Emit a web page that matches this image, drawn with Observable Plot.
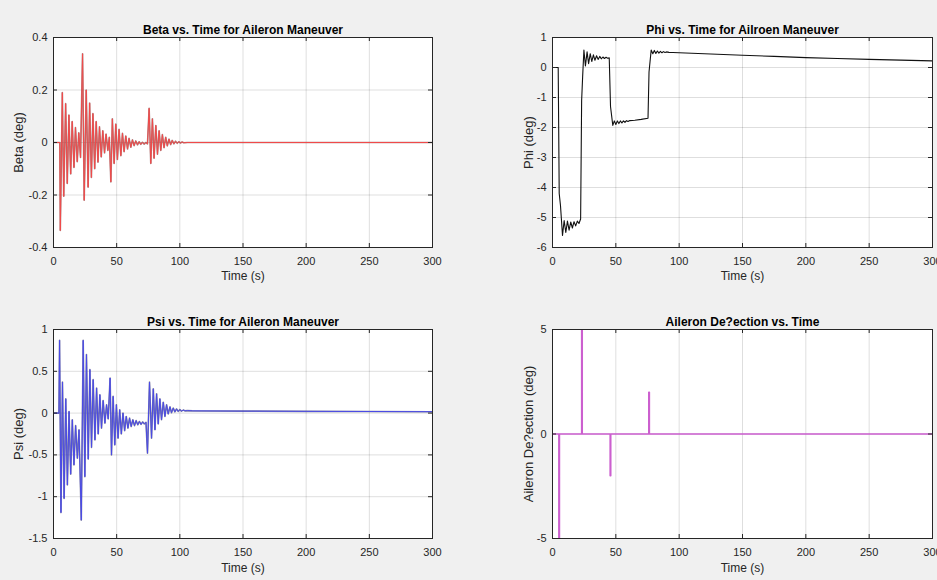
<!DOCTYPE html>
<html><head><meta charset="utf-8">
<script src="https://cdn.jsdelivr.net/npm/d3@7"></script>
<script src="https://cdn.jsdelivr.net/npm/@observablehq/plot@0.6"></script>
<style>
html,body{margin:0;padding:0;background:#f0f0f0;}
#fig{position:relative;width:937px;height:580px;overflow:hidden;background:#f0f0f0;font-family:"Liberation Sans",Arial,sans-serif;}
.panel{position:absolute;}
</style></head><body><div id="fig"></div>
<script>
// ---- Data (time in s, value in deg) ----
const timeTicks = [0, 50, 100, 150, 200, 250, 300];
const betaTicks = [-0.4, -0.2, 0, 0.2, 0.4];
const phiTicks = [-6, -5, -4, -3, -2, -1, 0, 1];
const psiTicks = [-1.5, -1, -0.5, 0, 0.5, 1];
const aileronTicks = [-5, 0, 5];

const betaSeries = [
  [0,0],[5.0,0],[5.4,-0.335],[7.0,0.19],[8.1,-0.205],[9.6,0.148],[10.9,-0.156],[12.2,0.105],
  [13.6,-0.12],[14.8,0.08],[16.2,-0.095],[17.4,0.057],[18.8,-0.073],[20.0,0.037],[21.4,-0.057],
  [23.0,0.338],[24.3,-0.22],[25.9,0.2],[27.4,-0.17],[28.6,0.15],[30.0,-0.133],[31.2,0.11],
  [32.6,-0.10],[33.8,0.08],[35.2,-0.075],[36.4,0.06],[37.8,-0.055],[39.0,0.045],[40.4,-0.04],
  [41.6,0.032],[43.0,-0.03],[44.2,0.02],[45.4,-0.15],[46.6,0.09],[48.0,-0.08],[49.3,0.07],
  [50.6,-0.065],[51.9,0.05],[53.3,-0.05],[54.6,0.035],[55.9,-0.035],[57.2,0.025],[58.6,-0.025],
  [59.8,0.016],[61.2,-0.018],[62.5,0.01],[63.8,-0.012],[65.1,0.006],[66.5,-0.009],[67.8,0.003],
  [69.1,-0.007],[70.4,0.001],[71.8,-0.006],[73.0,0],[74.4,-0.005],[75.7,0.13],[77.0,-0.08],
  [78.3,0.09],[79.6,-0.06],[81.0,0.065],[82.3,-0.045],[83.6,0.045],[84.9,-0.03],[86.2,0.03],
  [87.5,-0.02],[88.8,0.02],[90.1,-0.013],[91.4,0.013],[92.7,-0.008],[94.0,0.008],[95.3,-0.005],
  [96.6,0.005],[97.9,-0.003],[99.2,0.003],[100.5,-0.002],[101.8,0.002],[103.1,-0.001],[106,0],[300,0]
];

const phiSeries = [
  [0,0],[4.5,0],[5.3,-4.2],[6.3,-4.6],[7.9,-5.6],[9.2,-5.1],[10.5,-5.5],[11.8,-5.12],[13.1,-5.42],
  [14.4,-5.15],[15.7,-5.35],[17.0,-5.14],[18.3,-5.28],[19.6,-5.12],[20.9,-5.2],[22.2,-5.05],
  [23.0,-1.1],[23.8,-0.3],[24.8,0.58],[26.0,0.05],[27.3,0.52],[28.5,0.13],[29.8,0.46],[31.0,0.2],
  [32.3,0.42],[33.5,0.24],[34.8,0.39],[36.0,0.27],[37.3,0.37],[38.5,0.29],[39.8,0.35],[41.0,0.3],
  [42.3,0.34],[43.5,0.31],[44.8,0.32],[45.8,-1.3],[47.6,-1.93],[48.8,-1.78],[50.0,-1.9],[51.2,-1.78],
  [52.4,-1.87],[53.6,-1.78],[54.8,-1.85],[56.0,-1.78],[57.2,-1.83],[58.4,-1.77],[59.6,-1.8],
  [61.0,-1.77],[65.0,-1.76],[70.0,-1.73],[75.4,-1.69],[76.2,-0.15],[77.9,0.58],[79.2,0.46],
  [80.4,0.57],[81.6,0.47],[82.8,0.55],[84.0,0.48],[85.2,0.54],[86.4,0.49],[87.6,0.53],[88.8,0.5],
  [90.0,0.52],[92.0,0.505],[95.0,0.5],[100,0.49],[125,0.45],[150,0.41],[175,0.37],[200,0.33],
  [225,0.3],[250,0.27],[275,0.245],[300,0.22]
];

const psiSeries = [
  [0,0],[4.3,0],[4.8,0.87],[5.9,-1.19],[7.1,0.37],[8.4,-1.02],[9.7,0.17],[11.0,-0.86],[12.3,0.02],
  [13.6,-0.73],[14.9,-0.08],[16.2,-0.62],[17.5,-0.15],[18.9,-0.54],[20.2,-0.2],[22.0,-1.28],
  [23.5,0.87],[24.8,-0.76],[26.1,0.70],[27.5,-0.55],[28.8,0.52],[30.1,-0.41],[31.4,0.40],
  [32.8,-0.32],[34.1,0.30],[35.4,-0.25],[36.7,0.22],[38.0,-0.18],[39.3,0.15],[40.7,-0.12],
  [42.0,0.10],[43.3,-0.07],[44.8,0.42],[45.9,-0.5],[47.2,0.2],[48.5,-0.38],[49.8,0.1],[51.1,-0.3],
  [52.4,0.04],[53.7,-0.25],[55.0,0.0],[56.3,-0.21],[57.6,-0.04],[58.9,-0.18],[60.2,-0.06],
  [61.5,-0.16],[62.8,-0.08],[64.1,-0.15],[65.4,-0.09],[66.7,-0.14],[68.0,-0.1],[69.3,-0.135],
  [70.6,-0.105],[71.9,-0.13],[73.2,-0.11],[74.4,-0.48],[76.0,0.37],[77.6,-0.3],[79.0,0.29],
  [80.3,-0.2],[81.6,0.23],[82.9,-0.13],[84.2,0.17],[85.5,-0.08],[86.9,0.13],[88.2,-0.04],
  [89.5,0.10],[90.8,-0.01],[92.2,0.075],[93.4,0.005],[94.8,0.06],[96.1,0.015],[97.4,0.05],
  [98.7,0.02],[100.0,0.042],[101.3,0.024],[102.7,0.036],[104.0,0.027],[106,0.03],[110,0.027],
  [150,0.024],[200,0.021],[250,0.019],[300,0.017]
];

const aileronSeries = [
  [0,0],[5,0],[5,-5],[5.5,-5],[5.5,0],[23,0],[23,5],[23.5,5],[23.5,0],
  [45.5,0],[45.5,-2],[46,-2],[46,0],[76,0],[76,2],[76.5,2],[76.5,0],[300,0]
];

const FONT = '"Liberation Sans", Arial, Helvetica, sans-serif';

function panel(o) {
  const rows = o.series.map(([t, v]) => ({t, v}));
  const fw = o.width - o.mL - o.mR, fh = o.height - o.mT - o.mB;
  const lineMarks = o.shadow
    ? [Plot.line(rows, {x: "t", y: "v", stroke: o.shadow, strokeWidth: o.strokeWidth + 0.6, strokeOpacity: 0.5, clip: true}),
       Plot.line(rows, {x: "t", y: "v", stroke: o.color, strokeWidth: o.strokeWidth, clip: true})]
    : [Plot.line(rows, {x: "t", y: "v", stroke: o.color, strokeWidth: o.strokeWidth, clip: true})];
  const chart = Plot.plot({
    width: o.width, height: o.height,
    marginLeft: o.mL, marginRight: o.mR, marginTop: o.mT, marginBottom: o.mB,
    style: {background: "transparent", fontFamily: FONT, fontSize: "11px", color: "#262626", overflow: "visible"},
    x: {domain: [0, 300]},
    y: {domain: o.yDomain},
    marks: [
      Plot.frame({fill: "white", stroke: null}),
      Plot.ruleX(timeTicks, {stroke: "#000", strokeOpacity: 0.13}),
      Plot.ruleY(o.yTicks, {stroke: "#000", strokeOpacity: 0.13}),
      ...lineMarks,
      Plot.tickX(timeTicks, {x: d => d, insetTop: fh - 4, stroke: "#262626"}),
      Plot.tickX(timeTicks, {x: d => d, insetBottom: fh - 4, stroke: "#262626"}),
      Plot.tickY(o.yTicks, {y: d => d, insetRight: fw - 4, stroke: "#262626"}),
      Plot.tickY(o.yTicks, {y: d => d, insetLeft: fw - 4, stroke: "#262626"}),
      Plot.frame({stroke: "#262626"}),
      Plot.axisX(timeTicks, {tickSize: 0, tickPadding: 10, label: null, tickFormat: d => String(d), fontSize: 11, fill: "#262626"}),
      Plot.axisY(o.yTicks, {tickSize: 0, tickPadding: 6, label: null, tickFormat: d => String(d), fontSize: 11, fill: "#262626"}),
      Plot.text([o.title], {text: d => d, frameAnchor: "top", dy: o.titleDy, textAnchor: "middle", fontWeight: "bold", fontSize: 12, fill: "#000"}),
      Plot.text(["Time (s)"], {text: d => d, frameAnchor: "bottom", dy: o.xlabelDy, textAnchor: "middle", fontSize: 12, fill: "#262626"}),
      Plot.text([o.ylabel], {text: d => d, frameAnchor: "left", dx: o.ylabelDx, textAnchor: "middle", rotate: -90, fontSize: 13, fill: "#262626"})
    ]
  });
  const div = document.createElement("div");
  div.className = "panel";
  div.style.left = o.left + "px";
  div.style.top = o.top + "px";
  div.appendChild(chart);
  document.getElementById("fig").appendChild(div);
}

panel({series: betaSeries, title: "Beta vs. Time for Aileron Maneuver", ylabel: "Beta (deg)",
  yDomain: [-0.4, 0.4], yTicks: betaTicks, color: "#f04a4a", shadow: "#5a1010", strokeWidth: 1,
  left: 0, top: 0, width: 468, height: 290, mL: 53, mR: 36, mT: 37, mB: 43,
  ylabelDx: -35, titleDy: -12, xlabelDy: 32});

panel({series: phiSeries, title: "Phi vs. Time for Ailroen Maneuver", ylabel: "Phi (deg)",
  yDomain: [-6, 1], yTicks: phiTicks, color: "#111111", strokeWidth: 1.1,
  left: 468, top: 0, width: 469, height: 290, mL: 84, mR: 5, mT: 37, mB: 43,
  ylabelDx: -24, titleDy: -12, xlabelDy: 32});

panel({series: psiSeries, title: "Psi vs. Time for Aileron Maneuver", ylabel: "Psi (deg)",
  yDomain: [-1.5, 1], yTicks: psiTicks, color: "#4a4ae6", shadow: "#10104a", strokeWidth: 1,
  left: 0, top: 290, width: 468, height: 290, mL: 53, mR: 36, mT: 39, mB: 42,
  ylabelDx: -35, titleDy: -12.5, xlabelDy: 33});

panel({series: aileronSeries, title: "Aileron De?ection vs. Time", ylabel: "Aileron De?ection (deg)",
  yDomain: [-5, 5], yTicks: aileronTicks, color: "#cc5fcf", strokeWidth: 1.5,
  left: 468, top: 290, width: 469, height: 290, mL: 84, mR: 5, mT: 39, mB: 42,
  ylabelDx: -24, titleDy: -12.5, xlabelDy: 33});
</script>
</body></html>
